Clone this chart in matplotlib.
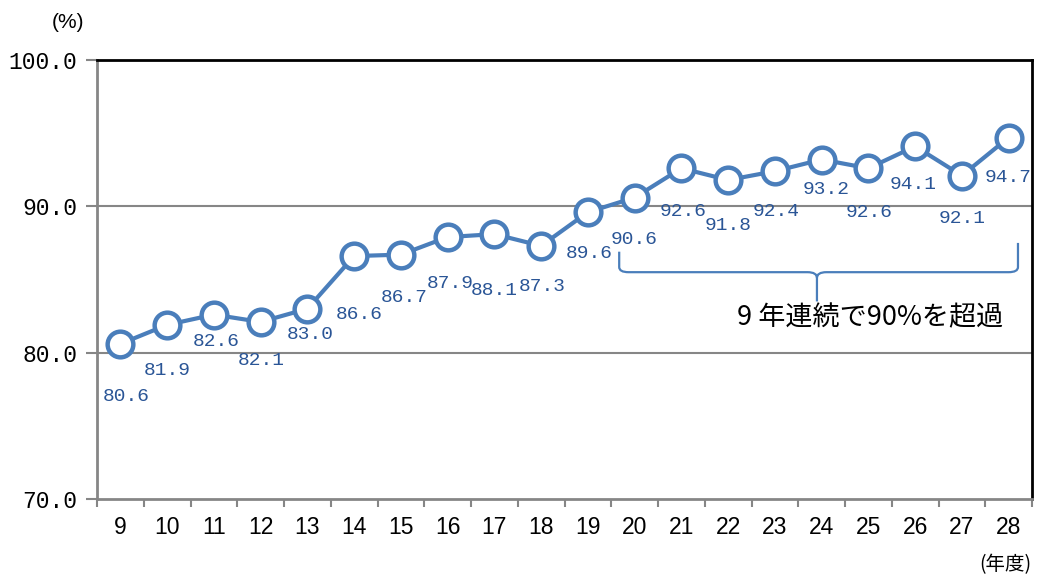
#!/usr/bin/env python3
import numpy as np
import matplotlib
matplotlib.use("Agg")
import matplotlib.pyplot as plt
from matplotlib.path import Path
from matplotlib.patches import PathPatch

# data
years = ["9", "10", "11", "12", "13", "14", "15", "16", "17", "18",
         "19", "20", "21", "22", "23", "24", "25", "26", "27", "28"]
rates = [80.6, 81.9, 82.6, 82.1, 83.0, 86.6, 86.7, 87.9, 88.1, 87.3,
         89.6, 90.6, 92.6, 91.8, 92.4, 93.2, 92.6, 94.1, 92.1, 94.7]
y_ticks = [70.0, 80.0, 90.0, 100.0]
note = "9 年連続で90%を超過"

# label offsets in pixels (dx, dy; dy down)
lab_off = [(6, 53), (0, 46), (2, 27), (1, 39), (3, 26), (5, 58), (3, 43), (3, 46),
           (0, 56), (1, 41), (1, 41), (0, 42), (2, 43), (0, 46), (1, 40), (5, 30),
           (1, 44), (-2, 38), (0, 43), (0, 40)]

line_c = "#4A7EBB"
lab_c = "#2A5596"
grid_c = "#868686"

fig = plt.figure(figsize=(10.4, 5.79), dpi=100)
ax = fig.add_axes([97/1040, 80/579, 935/1040, 439/579])

x = np.arange(len(years))
ax.plot(x, rates, color=line_c, lw=3, marker="o", ms=18.5, mfc="white",
        mec=line_c, mew=3.2, zorder=5, clip_on=False)

for i, v in enumerate(rates):
    dx, dy = lab_off[i]
    ax.annotate(f"{v:.1f}", (x[i], v), xytext=(dx, -dy), textcoords="offset pixels",
                ha="center", va="center", fontsize=14, color=lab_c,
                family="Liberation Mono", zorder=6)

ax.set_xlim(-0.5, len(years) - 0.5)
ax.set_ylim(70, 100)
ax.set_yticks(y_ticks)
ax.set_yticklabels([f"{t:.1f}" for t in y_ticks], family="Liberation Mono", fontsize=16.5)
ax.set_xticks(x)
ax.set_xticklabels(years, family="Liberation Sans", fontsize=16.5)
ax.set_xticks(np.arange(-0.5, len(years)), minor=True)
ax.tick_params(axis="x", which="major", length=0, pad=12)
ax.tick_params(axis="x", which="minor", length=6, width=1.5, color=grid_c)
ax.tick_params(axis="y", length=8, width=1.5, color=grid_c, pad=6)

for t in [80, 90]:
    ax.axhline(t, color=grid_c, lw=1.5, zorder=1)

ax.spines["left"].set_color(grid_c)
ax.spines["bottom"].set_color(grid_c)
ax.spines["left"].set_linewidth(2)
ax.spines["bottom"].set_linewidth(2)
ax.spines["top"].set_color("black")
ax.spines["right"].set_color("black")
ax.spines["top"].set_linewidth(2)
ax.spines["right"].set_linewidth(2)

# curly bracket over 20-28
xl, xm, xr = 10.67, 14.9, 19.2
yb, yt_l, yt_r, ytip = 85.5, 86.9, 87.5, 83.5
r = 0.2
verts = [(xl, yt_l), (xl, yb + 0.35), (xl, yb), (xl + r, yb),
         (xm - r, yb), (xm, yb), (xm, yb - 0.4), (xm, ytip),
         (xm, yb - 0.4), (xm, yb), (xm + r, yb),
         (xr - r, yb), (xr, yb), (xr, yb + 0.35), (xr, yt_r)]
codes = [Path.MOVETO, Path.LINETO, Path.CURVE3, Path.CURVE3,
         Path.LINETO, Path.CURVE3, Path.CURVE3, Path.LINETO,
         Path.MOVETO, Path.CURVE3, Path.CURVE3,
         Path.LINETO, Path.CURVE3, Path.CURVE3, Path.LINETO]
ax.add_patch(PathPatch(Path(verts, codes), fill=False, edgecolor=line_c, lw=1.6, zorder=4))

ax.text(16.03, 82.4, note, ha="center", va="center", fontsize=19.5,
        family=["Noto Sans CJK JP", "DejaVu Sans"], color="black")

fig.text(68/1040, 1 - 22/579, "(%)", ha="center", va="center", fontsize=15,
         family=["Liberation Sans", "Noto Sans CJK JP"])
fig.text(1005/1040, 1 - 565/579, "(年度)", ha="center", va="center", fontsize=14,
         family=["Noto Sans CJK JP", "DejaVu Sans"])

fig.savefig("out.png", dpi=100)
